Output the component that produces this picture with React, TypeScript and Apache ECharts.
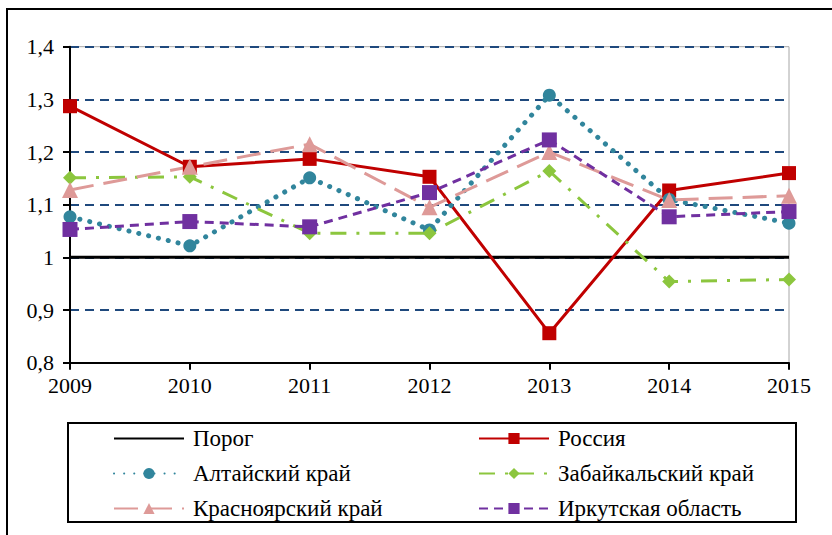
import React, { useEffect, useRef } from "react";
import * as echarts from "echarts";

const years = ["2009", "2010", "2011", "2012", "2013", "2014", "2015"];
const threshold = [1, 1, 1, 1, 1, 1, 1];
const russia = [1.287, 1.172, 1.187, 1.153, 0.856, 1.127, 1.16];
const altai = [1.077, 1.022, 1.151, 1.052, 1.308, 1.11, 1.065];
const zabaikal = [1.151, 1.153, 1.046, 1.046, 1.164, 0.954, 0.958];
const krasnoyarsk = [1.128, 1.172, 1.215, 1.095, 1.2, 1.109, 1.117];
const irkutsk = [1.053, 1.068, 1.058, 1.123, 1.223, 1.077, 1.087];

const names = {
  threshold: "Порог",
  russia: "Россия",
  altai: "Алтайский край",
  zabaikal: "Забайкальский край",
  krasnoyarsk: "Красноярский край",
  irkutsk: "Иркутская область",
};

const FONT = "Liberation Serif";
const tickRich = { t: { fontFamily: FONT, fontSize: 22, color: "#000" } };
const legendRich = { l: { fontFamily: FONT, fontSize: 23, lineHeight: 23, color: "#000", padding: [0, 0, 0, 4] } };

export default function App() {
  const ref = useRef<HTMLDivElement>(null);
  useEffect(() => {
    document.body.style.margin = "0";
    const chart = echarts.init(ref.current!, undefined, { renderer: "svg" });
    const legendCommon = {
      orient: "vertical" as const,
      padding: 0,
      itemWidth: 70,
      itemHeight: 14,
      itemGap: 12,
      top: 427,
      formatter: "{l|{name}}",
      textStyle: { fontFamily: FONT, fontSize: 23, color: "#000", rich: legendRich },
    };
    chart.setOption({
      animation: false,
      backgroundColor: "#fff",
      textStyle: { fontFamily: FONT },
      grid: {
        left: 70,
        right: 43,
        top: 46.7,
        bottom: 172.3,
        show: true,
        borderColor: "#A6A6A6",
        borderWidth: 1,
      },
      xAxis: {
        type: "category",
        data: years,
        boundaryGap: false,
        axisLine: { lineStyle: { color: "#000", width: 2 } },
        axisTick: { show: true, length: 7, lineStyle: { color: "#000", width: 2 } },
        axisLabel: {
          fontFamily: FONT,
          fontSize: 22,
          color: "#000",
          margin: 12,
          formatter: "{t|{value}}",
          rich: tickRich,
        },
      },
      yAxis: {
        type: "value",
        min: 0.8,
        max: 1.4,
        interval: 0.1,
        axisLine: { show: true, lineStyle: { color: "#000", width: 2 } },
        axisTick: { show: true, length: 7, lineStyle: { color: "#000", width: 2 } },
        axisLabel: {
          fontFamily: FONT,
          fontSize: 22,
          color: "#000",
          margin: 16,
          formatter: (v: number) => "{t|" + String(Math.round(v * 10) / 10).replace(".", ",") + "}",
          rich: tickRich,
        },
        splitLine: { lineStyle: { color: "#1F497D", width: 2, type: [9, 6] } },
      },
      legend: [
        {
          ...legendCommon,
          left: 113,
          data: [
            { name: names.threshold, itemStyle: { color: "rgba(0,0,0,0)", borderWidth: 0 } },
            names.altai,
            names.krasnoyarsk,
          ],
        },
        { ...legendCommon, left: 478, data: [names.russia, names.zabaikal, names.irkutsk] },
      ],
      graphic: [
        {
          type: "rect",
          shape: { x: 7, y: 9, width: 840, height: 540 },
          style: { fill: "none", stroke: "#000", lineWidth: 2 },
          silent: true,
          z: -1,
        },
        {
          type: "rect",
          shape: { x: 68, y: 423, width: 728, height: 99 },
          style: { fill: "none", stroke: "#000", lineWidth: 2 },
          silent: true,
        },
      ],
      series: [
        {
          name: names.threshold,
          type: "line",
          data: threshold,
          symbol: "none",
          lineStyle: { color: "#000", width: 3 },
          itemStyle: { color: "#000" },
        },
        {
          name: names.russia,
          type: "line",
          data: russia,
          symbol: "rect",
          symbolSize: 14,
          lineStyle: { color: "#C00000", width: 3 },
          itemStyle: { color: "#C00000" },
        },
        {
          name: names.altai,
          type: "line",
          data: altai,
          symbol: "circle",
          symbolSize: 13,
          lineStyle: { color: "#31859C", width: 5, type: [0.1, 10], cap: "round" },
          itemStyle: { color: "#31859C" },
        },
        {
          name: names.zabaikal,
          type: "line",
          data: zabaikal,
          symbol: "diamond",
          symbolSize: 14,
          lineStyle: { color: "#8CC63E", width: 3, type: [16, 10, 3, 10] },
          itemStyle: { color: "#8CC63E" },
        },
        {
          name: names.krasnoyarsk,
          type: "line",
          data: krasnoyarsk,
          symbol: "triangle",
          symbolSize: 16,
          lineStyle: { color: "#DE9A98", width: 3, type: [24, 10] },
          itemStyle: { color: "#DE9A98" },
        },
        {
          name: names.irkutsk,
          type: "line",
          data: irkutsk,
          symbol: "rect",
          symbolSize: 15,
          lineStyle: { color: "#7030A0", width: 3, type: [9, 6] },
          itemStyle: { color: "#7030A0" },
        },
      ],
    });
    return () => chart.dispose();
  }, []);
  return <div ref={ref} style={{ width: 832, height: 535 }} />;
}
